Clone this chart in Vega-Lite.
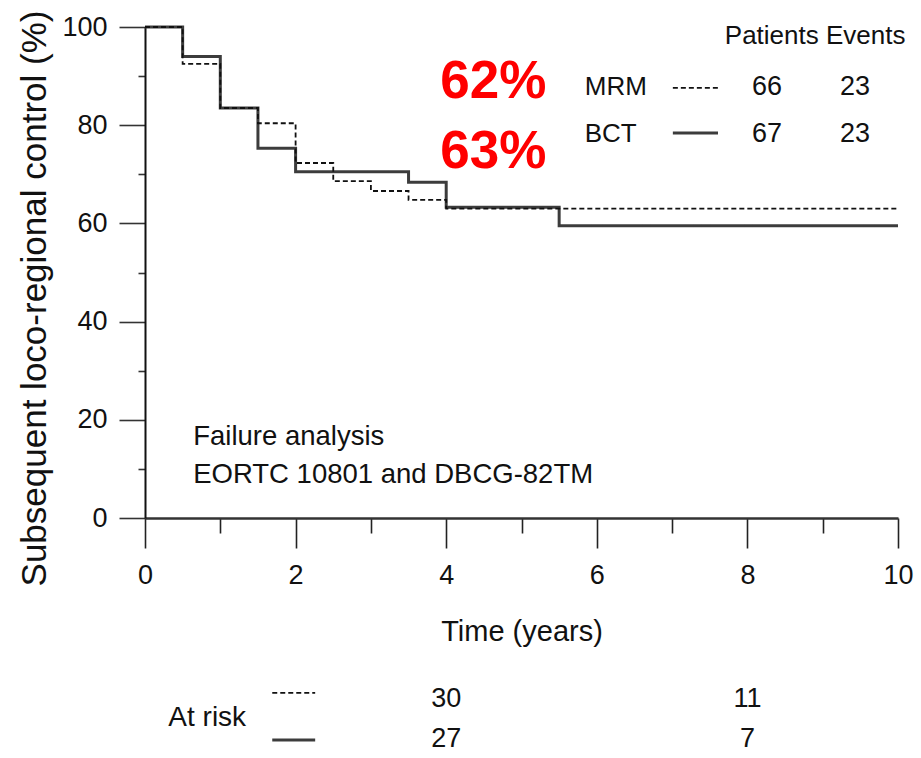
{
  "$schema": "https://vega.github.io/schema/vega-lite/v6.json",
  "width": 753,
  "height": 491,
  "autosize": {"type": "none"},
  "padding": {"left": 145, "top": 27, "right": 23, "bottom": 240},
  "background": "white",
  "config": {"view": {"stroke": null}, "font": "Liberation Sans"},
  "datasets": {
    "km": [
      {"group": "BCT", "time": 0, "surv": 100},
      {"group": "BCT", "time": 0.5, "surv": 94},
      {"group": "BCT", "time": 1, "surv": 83.5},
      {"group": "BCT", "time": 1.5, "surv": 75.3},
      {"group": "BCT", "time": 2, "surv": 70.5},
      {"group": "BCT", "time": 3.5, "surv": 68.4},
      {"group": "BCT", "time": 4, "surv": 63.3},
      {"group": "BCT", "time": 5.5, "surv": 59.5},
      {"group": "BCT", "time": 10, "surv": 59.5},
      {"group": "MRM", "time": 0, "surv": 100},
      {"group": "MRM", "time": 0.5, "surv": 92.5},
      {"group": "MRM", "time": 1, "surv": 83.5},
      {"group": "MRM", "time": 1.5, "surv": 80.4},
      {"group": "MRM", "time": 2, "surv": 72.3},
      {"group": "MRM", "time": 2.5, "surv": 68.6},
      {"group": "MRM", "time": 3, "surv": 66.6},
      {"group": "MRM", "time": 3.5, "surv": 64.8},
      {"group": "MRM", "time": 4, "surv": 63},
      {"group": "MRM", "time": 10, "surv": 63}
    ],
    "legendText": [
      {"label": "Patients Events", "t": 7.7, "v": 96.6},
      {"label": "MRM", "t": 5.84, "v": 86.2},
      {"label": "BCT", "t": 5.84, "v": 76.6}
    ],
    "noteText": [
      {"label": "Failure analysis", "t": 0.64, "v": 14.9},
      {"label": "EORTC 10801 and DBCG-82TM", "t": 0.64, "v": 7.1}
    ],
    "centerText": [
      {"label": "66", "t": 8.26, "v": 86.2},
      {"label": "23", "t": 9.43, "v": 86.2},
      {"label": "67", "t": 8.26, "v": 76.6},
      {"label": "23", "t": 9.43, "v": 76.6},
      {"label": "30", "t": 4, "v": -38.5},
      {"label": "11", "t": 8, "v": -38.5},
      {"label": "27", "t": 4, "v": -46.6},
      {"label": "7", "t": 8, "v": -46.6}
    ],
    "atRisk": [
      {"label": "At risk", "t": 0.31, "v": -42.4}
    ],
    "red": [
      {"label": "62%", "t": 3.92, "v": 85.5},
      {"label": "63%", "t": 3.92, "v": 71.3}
    ],
    "samples": [
      {"group": "MRM", "t": 7.01, "t2": 7.61, "v": 87.6},
      {"group": "BCT", "t": 7.01, "t2": 7.61, "v": 78.4},
      {"group": "MRM", "t": 1.69, "t2": 2.26, "v": -35.6},
      {"group": "BCT", "t": 1.69, "t2": 2.26, "v": -45.2}
    ]
  },
  "layer": [
    {
      "data": {"name": "km"},
      "mark": {"type": "line", "interpolate": "step-after"},
      "encoding": {
        "x": {
          "field": "time", "type": "quantitative",
          "scale": {"domain": [0, 10], "nice": false},
          "axis": {
            "values": [0, 1, 2, 3, 4, 5, 6, 7, 8, 9, 10],
            "format": "d",
            "title": "Time (years)",
            "grid": false,
            "labelExpr": "datum.value % 2 === 0 ? datum.label : ''",
            "tickSize": {"condition": {"test": "datum.value % 2 === 0", "value": 30}, "value": 15},
            "tickColor": "#222",
            "tickWidth": 1.6,
            "domainColor": "#333",
            "domainWidth": 2.5,
            "labelFont": "Liberation Sans",
            "labelFontSize": 27,
            "labelColor": "#111",
            "labelPadding": 14,
            "labelFlush": false,
            "labelOverlap": false,
            "titleFont": "Liberation Sans",
            "titleFontSize": 29,
            "titleFontWeight": "normal",
            "titleColor": "#111",
            "titleBaseline": "alphabetic",
            "titleY": 122
          }
        },
        "y": {
          "field": "surv", "type": "quantitative",
          "scale": {"domain": [0, 100], "nice": false},
          "axis": {
            "values": [0, 10, 20, 30, 40, 50, 60, 70, 80, 90, 100],
            "format": "d",
            "title": "Subsequent loco-regional control (%)",
            "grid": false,
            "labelExpr": "datum.value % 20 === 0 ? datum.label : ''",
            "tickSize": {"condition": {"test": "datum.value % 20 === 0", "value": 26}, "value": 7},
            "tickColor": "#333",
            "tickWidth": 1.6,
            "domainColor": "#111",
            "domainWidth": 2,
            "labelFont": "Liberation Sans",
            "labelFontSize": 27,
            "labelColor": "#111",
            "labelPadding": 12,
            "labelOverlap": false,
            "labelFlush": false,
            "titleFont": "Liberation Sans",
            "titleFontSize": 35,
            "titleFontWeight": "normal",
            "titleColor": "#111",
            "titleBaseline": "alphabetic",
            "titleAlign": "center",
            "titleX": -100,
            "titleY": 271
          }
        },
        "color": {
          "field": "group", "type": "nominal", "legend": null,
          "scale": {"domain": ["MRM", "BCT"], "range": ["#111111", "#3c3c3c"]}
        },
        "strokeDash": {
          "field": "group", "type": "nominal", "legend": null,
          "scale": {"domain": ["MRM", "BCT"], "range": [[5, 3], [1, 0]]}
        },
        "strokeWidth": {
          "field": "group", "type": "nominal", "legend": null,
          "scale": {"domain": ["MRM", "BCT"], "range": [1.8, 3]}
        },
        "order": {"field": "time", "type": "quantitative"}
      }
    },
    {
      "data": {"name": "samples"},
      "mark": {"type": "rule"},
      "encoding": {
        "x": {"field": "t", "type": "quantitative", "scale": {"domain": [0, 10], "nice": false}},
        "x2": {"field": "t2"},
        "y": {"field": "v", "type": "quantitative", "scale": {"domain": [0, 100], "nice": false}},
        "color": {"field": "group", "type": "nominal", "legend": null},
        "strokeDash": {"field": "group", "type": "nominal", "legend": null},
        "strokeWidth": {"field": "group", "type": "nominal", "legend": null}
      }
    },
    {
      "data": {"name": "legendText"},
      "mark": {"type": "text", "align": "left", "baseline": "alphabetic", "font": "Liberation Sans", "fontSize": 26, "color": "#111"},
      "encoding": {
        "x": {"field": "t", "type": "quantitative", "scale": {"domain": [0, 10], "nice": false}},
        "y": {"field": "v", "type": "quantitative", "scale": {"domain": [0, 100], "nice": false}},
        "text": {"field": "label"}
      }
    },
    {
      "data": {"name": "noteText"},
      "mark": {"type": "text", "align": "left", "baseline": "alphabetic", "font": "Liberation Sans", "fontSize": 27.5, "color": "#111"},
      "encoding": {
        "x": {"field": "t", "type": "quantitative", "scale": {"domain": [0, 10], "nice": false}},
        "y": {"field": "v", "type": "quantitative", "scale": {"domain": [0, 100], "nice": false}},
        "text": {"field": "label"}
      }
    },
    {
      "data": {"name": "centerText"},
      "mark": {"type": "text", "align": "center", "baseline": "alphabetic", "font": "Liberation Sans", "fontSize": 27, "color": "#111"},
      "encoding": {
        "x": {"field": "t", "type": "quantitative", "scale": {"domain": [0, 10], "nice": false}},
        "y": {"field": "v", "type": "quantitative", "scale": {"domain": [0, 100], "nice": false}},
        "text": {"field": "label"}
      }
    },
    {
      "data": {"name": "atRisk"},
      "mark": {"type": "text", "align": "left", "baseline": "alphabetic", "font": "Liberation Sans", "fontSize": 28, "color": "#111"},
      "encoding": {
        "x": {"field": "t", "type": "quantitative", "scale": {"domain": [0, 10], "nice": false}},
        "y": {"field": "v", "type": "quantitative", "scale": {"domain": [0, 100], "nice": false}},
        "text": {"field": "label"}
      }
    },
    {
      "data": {"name": "red"},
      "mark": {"type": "text", "align": "left", "baseline": "alphabetic", "font": "Liberation Sans", "fontSize": 53, "fontWeight": "bold", "color": "#ff0000"},
      "encoding": {
        "x": {"field": "t", "type": "quantitative", "scale": {"domain": [0, 10], "nice": false}},
        "y": {"field": "v", "type": "quantitative", "scale": {"domain": [0, 100], "nice": false}},
        "text": {"field": "label"}
      }
    }
  ]
}
